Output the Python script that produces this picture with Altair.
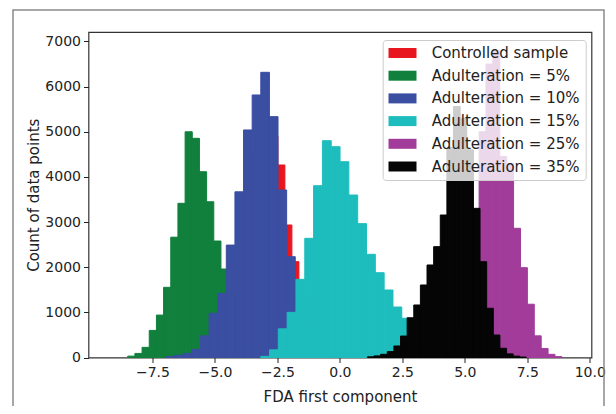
import altair as alt
import pandas as pd

# ---- data ----
series_names = [
    "Controlled sample",
    "Adulteration = 5%",
    "Adulteration = 10%",
    "Adulteration = 15%",
    "Adulteration = 25%",
    "Adulteration = 35%",
]
series_colors = ["#e8161e", "#10803c", "#3a4ea2", "#1ebdbd", "#a23c9b", "#050505"]

# bin start (left edge of first bin) and bin width, per series
bin_starts = [-6.68, -8.49, -6.96, -3.17, 3.916, 1.101]
bin_widths = [0.28, 0.287, 0.345, 0.353, 0.276, 0.2652]

red_counts = [25, 50, 110, 230, 420, 700, 1000, 1500, 2100, 2900, 3400, 4500,
              5100, 5000, 4900, 4264, 2935, 2122, 1300, 700, 300, 100, 30]
green_counts = [30, 90, 225, 600, 940, 1555, 2665, 3415, 5000, 4855, 4115, 3450,
                2580, 1960, 1400, 900, 500, 250, 100, 40, 15]
blue_counts = [20, 50, 90, 180, 480, 980, 1420, 2490, 3670, 5040, 5815, 6317,
               5335, 3710, 2233, 1300, 700, 300, 100, 30]
cyan_counts = [25, 170, 635, 1000, 1732, 2640, 3805, 4802, 4669, 4337, 3599, 2965,
               2286, 1878, 1495, 1118, 870, 600, 350, 180, 80, 30]
magenta_counts = [40, 120, 300, 700, 1400, 2500, 5000, 6500, 6800, 4450, 4300, 2862,
                  1990, 1180, 480, 200, 70, 20]
black_counts = [15, 35, 70, 130, 255, 475, 880, 1163, 1606, 2049, 2455, 3156,
                4650, 5560, 5300, 4600, 3304, 2122, 1090, 498, 204, 80, 30, 10]

all_counts = [red_counts, green_counts, blue_counts, cyan_counts, magenta_counts, black_counts]

x_ticks = [-7.5, -5.0, -2.5, 0.0, 2.5, 5.0, 7.5, 10.0]
y_ticks = [0, 1000, 2000, 3000, 4000, 5000, 6000, 7000]

# ---- build table ----
rows = []
for name, start, width, counts in zip(series_names, bin_starts, bin_widths, all_counts):
    for i, c in enumerate(counts):
        left = start + i * width
        rows.append({"series": name, "left": left, "right": left + width,
                     "count": c, "base": 0})
df = pd.DataFrame(rows)

FONT = "DejaVu Sans"

color_scale = alt.Scale(domain=series_names, range=series_colors)

bars = alt.Chart(df).mark_rect(strokeWidth=1).encode(
    x=alt.X("left:Q",
            scale=alt.Scale(domain=[-10.06, 10.07], nice=False, zero=False),
            axis=alt.Axis(values=x_ticks, format=".1f", title="FDA first component",
                          grid=False, domain=False, tickSize=5, tickWidth=1,
                          tickColor="#222", labelColor="#222", labelFontSize=14,
                          labelFont=FONT, labelPadding=3, titleFont=FONT,
                          titleFontSize=15, titleFontWeight="normal",
                          titleColor="#222", titlePadding=9.5, labelFlush=False)),
    x2="right:Q",
    y=alt.Y("count:Q",
            scale=alt.Scale(domain=[0, 7210], nice=False),
            axis=alt.Axis(values=y_ticks, format="d", title="Count of data points",
                          grid=False, domain=False, tickSize=5, tickWidth=1,
                          tickColor="#222", labelColor="#222", labelFontSize=14,
                          labelFont=FONT, labelPadding=3, titleFont=FONT,
                          titleFontSize=15, titleFontWeight="normal",
                          titleColor="#222", titlePadding=3.5, labelFlush=False)),
    y2="base:Q",
    color=alt.Color("series:N", scale=color_scale,
                    legend=alt.Legend(title=None, orient="none", legendX=294.2, legendY=8,
                                      fillColor="rgba(255,255,255,0.8)",
                                      strokeColor="#cccccc", cornerRadius=3,
                                      padding=5.5,
                                      symbolType="M-2,-0.714L2,-0.714L2,0.714L-2,0.714Z",
                                      symbolSize=196, symbolOffset=6.8,
                                      symbolStrokeWidth=0, labelOffset=21.7,
                                      rowPadding=6.7, labelFontSize=15, labelFont=FONT,
                                      labelColor="#222", labelLimit=300, zindex=1)),
    stroke=alt.Stroke("series:N", scale=color_scale, legend=None),
)

# outer figure frame (decoration)
frame = alt.Chart(pd.DataFrame({"k": [0]})).mark_rect(
    fill=None, stroke="#8a8a8a", strokeWidth=1.5
).encode(
    x=alt.value(-75.5), x2=alt.value(515.5), y=alt.value(-22), y2=alt.value(400)
)

chart = alt.layer(frame, bars).properties(
    width=503, height=325.5,
    autosize=alt.AutoSizeParams(type="none"),
    padding={"left": 80.5, "top": 24, "right": 16.5, "bottom": 48.5},
).configure_view(stroke="#333333", strokeWidth=1.2)

chart.save("out.html", embed_options={"renderer": "svg", "actions": False})
